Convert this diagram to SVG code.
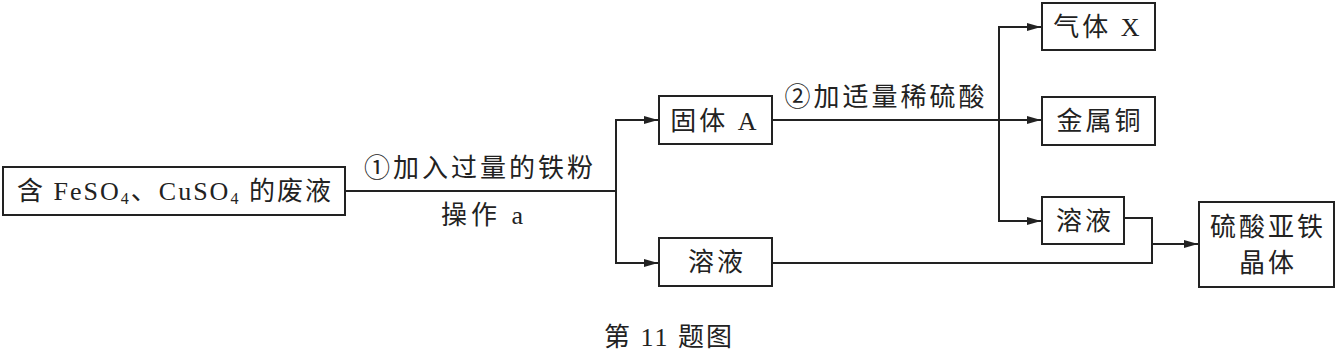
<svg xmlns="http://www.w3.org/2000/svg" width="1342" height="356" viewBox="0 0 1342 356">
<style>
.box{fill:#fff;stroke:#222;stroke-width:2}
.ln{fill:none;stroke:#222;stroke-width:2}
text{font-family:"Liberation Serif","Noto Sans CJK SC",serif;font-size:26px;fill:#222;dominant-baseline:central}
.c{text-anchor:middle}
.sp{letter-spacing:3px}
</style>
<defs>
<marker id="ah" viewBox="0 0 14 8" refX="14" refY="4" markerWidth="14" markerHeight="8" markerUnits="userSpaceOnUse" orient="auto">
<path d="M0,0 L14,4 L0,8 Z" fill="#222"/>
</marker>
</defs>
<g id="connectors">
<path class="ln" d="M345,191 H616"/>
<path class="ln" d="M616,191 V120 H658" marker-end="url(#ah)"/>
<path class="ln" d="M616,191 V263 H658" marker-end="url(#ah)"/>
<path class="ln" d="M772,120 H999"/>
<path class="ln" d="M999,120 V27 H1041" marker-end="url(#ah)"/>
<path class="ln" d="M999,120 H1041" marker-end="url(#ah)"/>
<path class="ln" d="M999,120 V221 H1041" marker-end="url(#ah)"/>
<path class="ln" d="M772,263 H1152 V218 H1124"/>
<path class="ln" d="M1152,244 H1198" marker-end="url(#ah)"/>
<text x="480" y="168" class="c sp">①加入过量的铁粉</text>
<text x="484" y="215" class="c" style="letter-spacing:4px">操作 a</text>
<text x="886" y="97" class="c sp">②加适量稀硫酸</text>
</g>
<g id="waste">
<rect class="box" x="3" y="167" width="342" height="48"/>
<text x="175" y="191" class="c" style="letter-spacing:2px">含 FeSO<tspan font-size="16" dy="7">4</tspan><tspan dy="-7">、CuSO</tspan><tspan font-size="16" dy="7">4</tspan><tspan dy="-7"> 的废液</tspan></text>
</g>
<g id="solidA">
<rect class="box" x="659" y="96" width="113" height="48"/>
<text x="715" y="121" class="c sp">固体 A</text>
</g>
<g id="solution1">
<rect class="box" x="659" y="238" width="113" height="48"/>
<text x="717" y="262" class="c sp">溶液</text>
</g>
<g id="gasX">
<rect class="box" x="1042" y="3" width="113" height="47"/>
<text x="1098" y="27" class="c sp">气体 X</text>
</g>
<g id="copper">
<rect class="box" x="1042" y="97" width="113" height="48"/>
<text x="1100" y="121" class="c sp">金属铜</text>
</g>
<g id="solution2">
<rect class="box" x="1042" y="197" width="82" height="47"/>
<text x="1085" y="221" class="c sp">溶液</text>
</g>
<g id="crystal">
<rect class="box" x="1199" y="202" width="135" height="85"/>
<text x="1268" y="227" class="c sp">硫酸亚铁</text>
<text x="1268" y="263" class="c sp">晶体</text>
</g>
<text x="669" y="337" class="c" style="font-size:26px;letter-spacing:2px">第 11 题图</text>
</svg>
